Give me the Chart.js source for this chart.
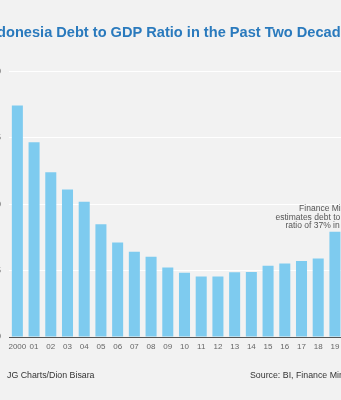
<!DOCTYPE html>
<html>
<head>
<meta charset="utf-8">
<script src="https://cdn.jsdelivr.net/npm/chart.js@4"></script>
<style>
  html, body { margin: 0; padding: 0; background: #f2f2f2; overflow: hidden; }
  #wrap { position: absolute; left: -31px; top: 0; width: 404px; height: 400px; }
</style>
</head>
<body>
<div id="wrap"><canvas id="debtChart" width="404" height="400"></canvas></div>
<script>
// debt to GDP ratio (%), 2000-2020
const years = ['2000', '01', '02', '03', '04', '05', '06', '07', '08', '09',
  '10', '11', '12', '13', '14', '15', '16', '17', '18', '19', '20'];
const debtRatio = [87.2, 73.4, 62.1, 55.6, 50.9, 42.5, 35.6, 32.1, 30.2, 26.2,
  24.2, 22.8, 22.8, 24.4, 24.5, 26.8, 27.7, 28.6, 29.6, 39.6, 37];
const yTicks = [0, 25, 50, 75, 100];

const noteLines = ['Finance Ministry', 'estimates debt to GDP', 'ratio of 37% in 2020'];
const credit = 'JG Charts/Dion Bisara';
const source = 'Source: BI, Finance Ministry';

const textPlugin = {
  id: 'extraText',
  afterDraw(chart) {
    const ctx = chart.ctx;
    const area = chart.chartArea;
    ctx.save();
    // note above the last bars, flush with the plot's right edge
    ctx.font = '8.5px "Liberation Sans", Arial, sans-serif';
    ctx.fillStyle = '#555';
    ctx.textAlign = 'right';
    ctx.textBaseline = 'middle';
    noteLines.forEach((t, i) => ctx.fillText(t, area.right + 1, 209 + i * 8.5));
    // footer
    ctx.font = '8.8px "Liberation Sans", Arial, sans-serif';
    ctx.fillStyle = '#333';
    ctx.textAlign = 'left';
    ctx.fillText(credit, 38, 376);
    ctx.textAlign = 'right';
    ctx.fillText(source, area.right, 376);
    ctx.restore();
  }
};

new Chart(document.getElementById('debtChart'), {
  type: 'bar',
  data: {
    labels: years,
    datasets: [{
      label: 'Debt to GDP',
      data: debtRatio,
      backgroundColor: '#7ecbef',
      barPercentage: 0.66,
      categoryPercentage: 1
    }]
  },
  options: {
    responsive: false,
    animation: false,
    layout: { padding: { left: 12, right: 13, top: 0, bottom: 0 } },
    plugins: {
      legend: { display: false },
      tooltip: { enabled: false },
      title: {
        display: true,
        text: 'Indonesia Debt to GDP Ratio in the Past Two Decades',
        color: '#2a7abd',
        font: { family: '"Liberation Sans", Arial, sans-serif', size: 14.6, weight: 'bold' },
        padding: { top: 24, bottom: 30 }
      }
    },
    scales: {
      x: {
        grid: { display: false, drawTicks: false },
        border: { display: true, color: '#555', width: 1 },
        ticks: {
          color: '#666',
          font: { family: '"Liberation Sans", Arial, sans-serif', size: 8 },
          maxRotation: 0,
          autoSkip: false,
          padding: 5
        },
        afterFit(axis) { axis.height = 63; }
      },
      y: {
        min: 0,
        max: 100,
        afterBuildTicks(axis) { axis.ticks = yTicks.map(v => ({ value: v })); },
        grid: { color: '#ffffff', lineWidth: 1, drawTicks: false },
        border: { display: false },
        ticks: {
          color: '#666',
          font: { family: '"Liberation Sans", Arial, sans-serif', size: 9 },
          padding: 8
        },
        afterFit(axis) { axis.width = 28; }
      }
    }
  },
  plugins: [textPlugin]
});
</script>
</body>
</html>
